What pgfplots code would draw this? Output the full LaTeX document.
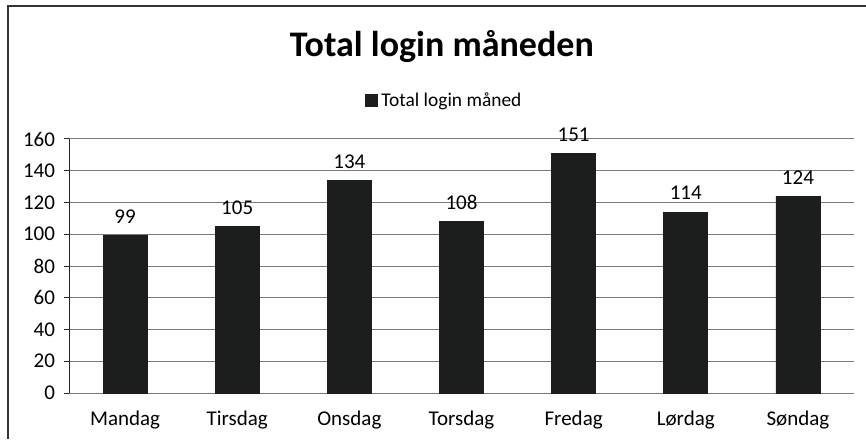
\documentclass[border=0pt]{standalone}
\usepackage{fontspec}
\setmainfont{Carlito}
\usepackage{pgfplots}
\pgfplotsset{compat=1.18}
\definecolor{barcol}{RGB}{28,30,30}
\definecolor{gridcol}{RGB}{120,120,120}
\begin{document}
\begin{tikzpicture}
\useasboundingbox (-34.5pt,-23pt) rectangle (398.5pt,196.5pt);
\draw[line width=0.6pt, black!80] (-30.5pt,-23pt) -- (-30.5pt,193.5pt) -- (398.5pt,193.5pt);
\begin{axis}[
    scale only axis,
    width=392.5pt, height=127pt,
    at={(0pt,0pt)}, anchor=south west,
    ybar, bar width=22pt,
    xmin=-0.5, xmax=6.5,
    ymin=0, ymax=160,
    ytick={0,20,...,160},
    xtick={0,...,6},
    xticklabels={Mandag,Tirsdag,Onsdag,Torsdag,Fredag,Lørdag,Søndag},
    major x tick style={draw=none},
    extra x ticks={-0.5,0.5,...,6.5},
    extra x tick labels={},
    extra x tick style={grid=none, major tick length=2.5pt, tick align=outside, tick style={draw=gridcol, line width=0.5pt}},
    ymajorgrids,
    grid style={draw=gridcol, line width=0.5pt},
    axis x line*=bottom, axis y line*=left,
    x axis line style={draw=gridcol, line width=0.5pt, -},
    y axis line style={draw=black!85, line width=0.5pt, -},
    y tick style={draw=black!85, line width=0.5pt},
    tick align=outside, major tick length=2.5pt,
    tick label style={font=\fontsize{10.5}{12}\selectfont},
    yticklabel style={xshift=-1pt},
    xticklabel style={yshift=-3pt},
    /pgf/number format/assume math mode=true,
    nodes near coords,
    every node near coord/.append style={font=\fontsize{10.5}{12}\selectfont, anchor=south, yshift=2.5pt},
    title={\textbf{Total login måneden}},
    title style={font=\fontsize{18}{21}\selectfont, at={(0.475,1.327)}, anchor=base, yshift=-6.5pt},
    legend style={draw=none, at={(0.479,1.15)}, anchor=center, font=\fontsize{9.7}{11}\selectfont, inner sep=0pt},
    legend image code/.code={\fill[barcol] (0pt,-3pt) rectangle (6pt,3pt);},
]
\addplot[fill=barcol, draw=barcol] coordinates {
    (0,99) (1,105) (2,134) (3,108) (4,151) (5,114) (6,124)
};
\addlegendentry{Total login måned}
\end{axis}
\end{tikzpicture}
\end{document}
